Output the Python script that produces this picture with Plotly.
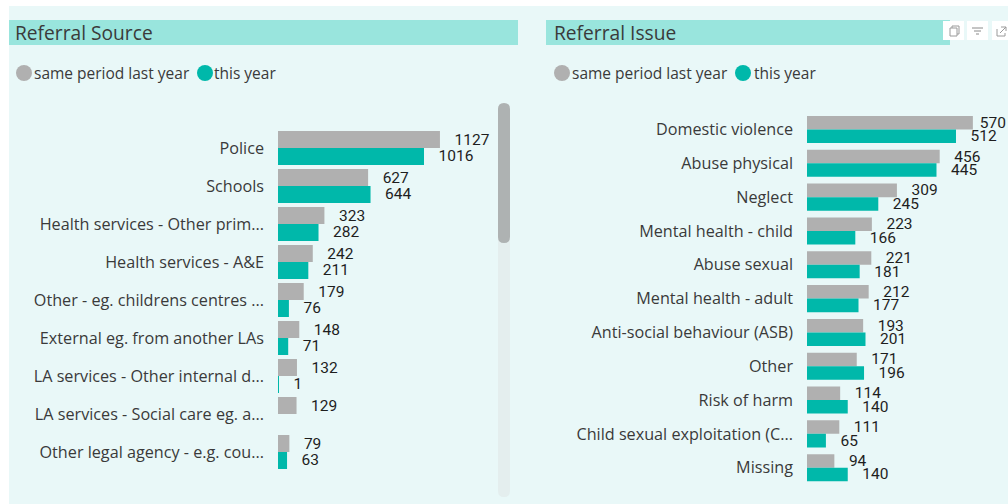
import plotly.graph_objects as go

src_cats = ["Police", "Schools", "Health services - Other prim...", "Health services - A&E",
            "Other - eg. childrens centres ...", "External eg. from another LAs",
            "LA services - Other internal d...", "LA services - Social care eg. a...",
            "Other legal agency - e.g. cou..."]
src_last = [1127, 627, 323, 242, 179, 148, 132, 129, 79]
src_this = [1016, 644, 282, 211, 76, 71, 1, None, 63]

iss_cats = ["Domestic violence", "Abuse physical", "Neglect", "Mental health - child", "Abuse sexual",
            "Mental health - adult", "Anti-social behaviour (ASB)", "Other", "Risk of harm",
            "Child sexual exploitation (C...", "Missing"]
iss_last = [570, 456, 309, 223, 221, 212, 193, 171, 114, 111, 94]
iss_this = [512, 445, 245, 166, 181, 177, 201, 196, 140, 65, 140]

W, H = 1008, 504
GRAY, TEAL = "#B0B0B0", "#00B8AA"
TXT = "#3A3A3A"
FONT = "Open Sans"
NUM = "Roboto"
px = lambda v: v / W
py = lambda v: 1 - v / H


def rect(x0, y0, x1, y1, color):
    return dict(type="rect", xref="paper", yref="paper", x0=px(x0), x1=px(x1), y0=py(y0), y1=py(y1),
                fillcolor=color, line_width=0, layer="below")


def circle(cx, cy, r, color):
    return dict(type="circle", xref="paper", yref="paper", x0=px(cx - r), x1=px(cx + r), y0=py(cy - r), y1=py(cy + r),
                fillcolor=color, line_width=0, layer="below")


def pill(x0, y0, x1, y1, color):
    r = (x1 - x0) / 2
    pts = (f"M {px(x0)} {py(y0 + r)} Q {px(x0)} {py(y0)} {px(x0 + r)} {py(y0)} Q {px(x1)} {py(y0)} {px(x1)} {py(y0 + r)} "
           f"L {px(x1)} {py(y1 - r)} Q {px(x1)} {py(y1)} {px(x0 + r)} {py(y1)} Q {px(x0)} {py(y1)} {px(x0)} {py(y1 - r)} Z")
    return dict(type="path", xref="paper", yref="paper", path=pts, fillcolor=color, line_width=0, layer="below")


def stroke(points, color="#9A9A9A"):
    d = "M " + " L ".join(f"{px(x)} {py(y)}" for x, y in points)
    return dict(type="path", xref="paper", yref="paper", path=d, line=dict(color=color, width=1),
                fillcolor="rgba(0,0,0,0)")


def text(x, y, s, size):
    return dict(xref="paper", yref="paper", x=px(x), y=py(y), text=s, showarrow=False, xanchor="left", yanchor="middle",
                font=dict(family=FONT, size=size, color=TXT))


fig = go.Figure()


def add(cats, last, this, xa, ya, bw, limit):
    for name, vals, color, off in (("same period last year", last, GRAY, -bw), ("this year", this, TEAL, 0)):
        labels = []
        for v in vals:
            pad = "\u00a0" * (1 if v is not None and v >= limit else 3)
            labels.append("" if v is None else pad + str(v))
        fig.add_trace(go.Bar(y=cats, x=vals, name=name, orientation="h", marker=dict(color=color, line_width=0),
                             xaxis=xa, yaxis=ya, showlegend=False, cliponaxis=False, width=bw, offset=off,
                             text=labels, textposition="outside", textangle=0, constraintext="none",
                             textfont=dict(family=NUM, size=15.5, color="#1E1E1E")))


add(src_cats, src_last, src_this, "x", "y", 0.447, 99999)
add(iss_cats, iss_last, iss_this, "x2", "y2", 0.4, 550)

shapes = [
    rect(9, 6, 1008, 504, "#E9F8F8"),
    rect(9, 20, 518, 45, "#99E5DD"),
    rect(546, 20, 950, 45, "#99E5DD"),
    pill(498, 103, 510, 497, "#E4EEEE"),
    pill(498, 103, 510, 243, "#AEB2B2"),
    circle(24, 73, 8, GRAY), circle(205, 73, 8, TEAL),
    circle(562, 73, 8, GRAY), circle(743, 73, 8, TEAL),
    rect(943, 21, 964, 40, "#FFFFFF"),
    rect(967, 21, 988, 40, "#FFFFFF"),
    rect(992, 21, 1008, 40, "#FFFFFF"),
]
for x0, x1, y in ((972, 983, 28), (974, 981, 31), (976, 979, 34)):
    shapes.append(dict(type="line", xref="paper", yref="paper", x0=px(x0), x1=px(x1), y0=py(y), y1=py(y),
                       line=dict(color="#8A8A8A", width=1)))
shapes.append(stroke([(950, 28), (950, 36), (957, 36), (957, 28), (950, 28)]))
shapes.append(stroke([(952, 28), (952, 26), (959, 26), (959, 34), (957, 34)]))
shapes.append(stroke([(997, 29), (997, 36), (1005, 36), (1005, 33)]))
shapes.append(stroke([(1001, 27), (1006, 27), (1006, 31)]))
shapes.append(stroke([(1000, 33), (1006, 27)]))

annotations = [
    text(13, 33, "Referral Source", 19.2), text(552, 33, "Referral Issue", 19.2),
    text(32, 73, "same period last year", 15.5), text(212, 73, "this year", 15.5),
    text(570, 73, "same period last year", 15.5), text(752, 73, "this year", 15.5),
]

tick = dict(family=FONT, size=16.2, color=TXT)
fig.update_layout(
    width=W, height=H, margin=dict(l=0, r=0, t=0, b=0), autosize=False,
    paper_bgcolor="#FFFFFF", plot_bgcolor="rgba(0,0,0,0)",
    barmode="overlay", showlegend=False,
    shapes=shapes, annotations=annotations,
    xaxis=dict(domain=[px(278), px(497)], range=[0, 219 / 0.1437], visible=False, anchor="y"),
    yaxis=dict(domain=[py(471), py(129)], autorange="reversed", anchor="x", showgrid=False, zeroline=False,
               showline=False, ticks="", tickfont=tick, ticklabelstandoff=13),
    xaxis2=dict(domain=[px(807), 1], range=[0, 201 / 0.291], visible=False, anchor="y2"),
    yaxis2=dict(domain=[py(484.6), py(112.6)], autorange="reversed", anchor="x2", showgrid=False, zeroline=False,
                showline=False, ticks="", tickfont=tick, ticklabelstandoff=13),
)
fig.write_html("out.html", config={"displayModeBar": False},
               post_script="document.body.style.margin='0';document.body.style.overflow='hidden';")
